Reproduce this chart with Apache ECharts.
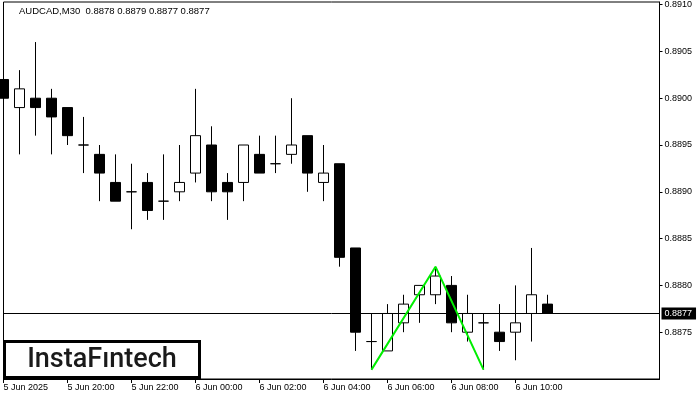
<!DOCTYPE html>
<html>
<head>
<meta charset="utf-8">
<script src="https://cdn.jsdelivr.net/npm/echarts@6/dist/echarts.min.js"></script>
<style>
html,body{margin:0;padding:0;background:#fff;}
#chart{width:700px;height:400px;}
</style>
</head>
<body>
<div id="chart"></div>
<script>
// ---- data ----
const categories = ['5 Jun 2025','5 Jun 18:30','5 Jun 19:00','5 Jun 19:30','5 Jun 20:00','5 Jun 20:30','5 Jun 21:00','5 Jun 21:30',
  '5 Jun 22:00','5 Jun 22:30','5 Jun 23:00','5 Jun 23:30','6 Jun 00:00','6 Jun 00:30','6 Jun 01:00','6 Jun 01:30',
  '6 Jun 02:00','6 Jun 02:30','6 Jun 03:00','6 Jun 03:30','6 Jun 04:00','6 Jun 04:30','6 Jun 05:00','6 Jun 05:30',
  '6 Jun 06:00','6 Jun 06:30','6 Jun 07:00','6 Jun 07:30','6 Jun 08:00','6 Jun 08:30','6 Jun 09:00','6 Jun 09:30',
  '6 Jun 10:00','6 Jun 10:30','6 Jun 11:00'];
const futureSlots = ['', '', '', '', '', '', ''];
const opens  = [0.8902,0.8899,0.8900,0.8900,0.8899,0.8895,0.8894,0.8891,0.8890,0.8891,0.8889,0.8890,0.8892,0.8895,0.8891,0.8891,
                0.8894,0.8893,0.8894,0.8896,0.8891,0.8893,0.8884,0.8874,0.8873,0.8876,0.8879,0.8879,0.8880,0.8875,0.8876,0.8875,
                0.8875,0.8877,0.8878];
const highs  = [0.8905,0.8903,0.8906,0.8901,0.8899,0.8898,0.8895,0.8894,0.8893,0.8892,0.8894,0.8895,0.8901,0.8897,0.8892,0.8895,
                0.8896,0.8896,0.8900,0.8896,0.8895,0.8893,0.8884,0.8877,0.8878,0.8879,0.8880,0.8882,0.8881,0.8879,0.8877,0.8878,
                0.8880,0.8884,0.8879];
const lows   = [0.8894,0.8894,0.8896,0.8894,0.8895,0.8892,0.8889,0.8889,0.8886,0.8887,0.8887,0.8889,0.8891,0.8889,0.8887,0.8889,
                0.8892,0.8892,0.8893,0.8890,0.8889,0.8882,0.8873,0.8871,0.8873,0.8875,0.8876,0.8878,0.8875,0.8874,0.8871,0.8873,
                0.8872,0.8874,0.8877];
const closes = [0.8900,0.8901,0.8899,0.8898,0.8896,0.8895,0.8892,0.8889,0.8890,0.8888,0.8889,0.8891,0.8896,0.8890,0.8890,0.8895,
                0.8892,0.8893,0.8895,0.8892,0.8892,0.8883,0.8875,0.8874,0.8877,0.8878,0.8880,0.8881,0.8876,0.8877,0.8876,0.8874,
                0.8876,0.8879,0.8877];
const patternIndex  = [23, 27, 30];
const patternValues = [0.8871, 0.8882, 0.8871];
const currentPrice = 0.8877;
const yTickValues = [0.8875,0.8880,0.8885,0.8890,0.8895,0.8900,0.8905,0.8910];
const xTickLabels = ['5 Jun 2025','5 Jun 20:00','5 Jun 22:00','6 Jun 00:00','6 Jun 02:00','6 Jun 04:00','6 Jun 06:00','6 Jun 08:00','6 Jun 10:00'];
const titleText = 'AUDCAD,M30  0.8878 0.8879 0.8877 0.8877';

// ---- build ----
const axisCats = categories.concat(futureSlots);
const candleData = opens.map((o, i) => [o, closes[i], lows[i], highs[i]]);
const patternData = axisCats.map((c, i) => {
  const k = patternIndex.indexOf(i);
  return k >= 0 ? patternValues[k] : null;
});
const showTick = (idx, val) => xTickLabels.indexOf(val) >= 0;
const font = 'Liberation Sans';

const chart = echarts.init(document.getElementById('chart'), null, {renderer: 'canvas'});
chart.setOption({
  animation: false,
  backgroundColor: '#fff',
  title: {
    text: titleText, left: 19, top: 6, padding: 0,
    textStyle: {fontFamily: font, fontSize: 9.5, fontWeight: 'normal', color: '#000', lineHeight: 10}
  },
  grid: {left: 3.5, right: 40.5, top: 2, bottom: 21, show: true, borderColor: '#000', borderWidth: 1, backgroundColor: '#fff'},
  xAxis: {
    type: 'category', data: axisCats, boundaryGap: false,
    axisLine: {show: true, lineStyle: {color: '#000', width: 1}},
    axisTick: {show: true, interval: showTick, length: 4, lineStyle: {color: '#000'}},
    axisLabel: {show: true, interval: showTick, align: 'left', margin: 4, fontFamily: font, fontSize: 9, color: '#000'},
    splitLine: {show: false}
  },
  yAxis: {
    type: 'value', position: 'right', min: 0.8870, max: 0.891028, scale: true,
    axisLine: {show: true, lineStyle: {color: '#000', width: 1}},
    axisTick: {show: true, customValues: yTickValues, length: 3, lineStyle: {color: '#000'}},
    axisLabel: {show: true, customValues: yTickValues, margin: 5, fontFamily: font, fontSize: 9, color: '#000',
      formatter: v => v.toFixed(4)},
    splitLine: {show: false}
  },
  series: [
    {
      type: 'candlestick', data: candleData, barWidth: 10, clip: false,
      itemStyle: {color: '#fff', color0: '#000', borderColor: '#000', borderColor0: '#000', borderColorDoji: '#000', borderWidth: 1},
      z: 2
    },
    {
      type: 'line', data: patternData, connectNulls: true, symbol: 'none',
      lineStyle: {color: '#00ee00', width: 2}, z: 5, silent: true,
      markLine: {
        silent: true, symbol: ['none', 'none'], animation: false, precision: 4,
        lineStyle: {color: '#000', width: 1, type: 'solid'},
        label: {show: true, position: 'end', distance: 2, formatter: currentPrice.toFixed(4),
          backgroundColor: '#000', color: '#fff', padding: [2, 4, 1, 3], fontFamily: font, fontSize: 9},
        data: [{yAxis: currentPrice}]
      }
    }
  ],
  graphic: [
    {
      type: 'group', z: 100,
      children: [
        {type: 'rect', shape: {x: 4.5, y: 341.5, width: 195, height: 36}, style: {fill: '#fff', stroke: '#000', lineWidth: 3}},
        {type: 'text', x: 102, y: 360, style: {text: 'InstaFıntech', fill: '#1a1a1a', font: '500 27px Roboto', textAlign: 'center', textVerticalAlign: 'middle'}}
      ]
    }
  ]
});
</script>
</body>
</html>
